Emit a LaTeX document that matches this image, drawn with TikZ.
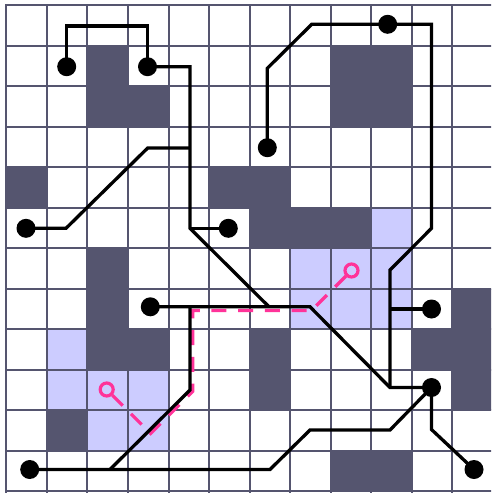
\documentclass[tikz,border=0pt]{standalone}
\definecolor{darkc}{HTML}{55556F}
\definecolor{lightc}{HTML}{CCCCFF}
\definecolor{pinkc}{HTML}{FF3399}
\begin{document}
\begin{tikzpicture}[x=1pt,y=-1pt,
  wire/.style={line width=3.3pt,black,line join=miter},
  dot/.style={circle,fill=black,inner sep=0pt,minimum size=19pt},
  ring/.style={circle,draw=pinkc,line width=3.2pt,inner sep=0pt,minimum size=13pt},
  route/.style={pinkc,line width=3.2pt,dash pattern=on 15pt off 11.7pt},
  gridline/.style={darkc,line width=2pt}]
\useasboundingbox (0,0) rectangle (491,493);
\fill[white] (0,0) rectangle (491,493);
\begin{scope}
\clip (0,0) rectangle (491,493);
% dark cells
\foreach \c/\r in {2/1,8/1,9/1,2/2,3/2,8/2,9/2,0/4,5/4,6/4,6/5,7/5,8/5,2/6,2/7,11/7,2/8,3/8,6/8,10/8,11/8,6/9,11/9,1/10,8/11,9/11}
  \fill[darkc] ({6.3+40.55*\c},{5.3+40.5*\r}) rectangle ++(40.55,40.5);
% light cells
\foreach \c/\r in {9/5,7/6,8/6,9/6,7/7,8/7,9/7,1/8,1/9,2/9,3/9,2/10,3/10}
  \fill[lightc] ({6.3+40.55*\c},{5.3+40.5*\r}) rectangle ++(40.55,40.5);
% grid
\foreach \i in {0,...,12} {
  \draw[gridline] ({6.3+40.55*\i},4.3) -- ({6.3+40.55*\i},494);
  \draw[gridline] (5.3,{5.3+40.5*\i}) -- (494,{5.3+40.5*\i});
}
\end{scope}
% dot centres
\coordinate (c1) at (66.7,66.7);
\coordinate (c2) at (147.5,66.7);
\coordinate (c3) at (387.7,24.3);
\coordinate (c4) at (267.3,147.7);
\coordinate (c5) at (26,228.3);
\coordinate (c6) at (228.3,228.3);
\coordinate (c7) at (150.3,306.8);
\coordinate (c8) at (431.5,309);
\coordinate (c9) at (431.5,387.5);
\coordinate (c10) at (474,469.5);
\coordinate (c11) at (29.7,469.5);
% junctions
\coordinate (j1) at (66.7,26);
\coordinate (j2) at (147.5,26);
\coordinate (j3) at (190,66.7);
\coordinate (j4) at (190,148);
\coordinate (j5) at (190,228.3);
\coordinate (j6) at (269,306.8);
\coordinate (j7) at (147.7,148);
\coordinate (j8) at (66,228.3);
\coordinate (j9) at (310,306.8);
\coordinate (j10) at (390,387.5);
\coordinate (j11) at (190,306.8);
\coordinate (j12) at (190,390);
\coordinate (j13) at (110,469.5);
\coordinate (j14) at (270,469.5);
\coordinate (j15) at (310,430);
\coordinate (j16) at (390,430);
\coordinate (j17) at (431.5,429.5);
\coordinate (j18) at (267.3,68.3);
\coordinate (j19) at (311.7,24.3);
\coordinate (j20) at (431.5,24.3);
\coordinate (j21) at (431.5,228.3);
\coordinate (j22) at (390,270);
\coordinate (j23) at (390,309);
% pink route
\node[ring] (r1) at (351.5,270.5) {};
\node[ring] (r2) at (106.7,389.5) {};
\coordinate (q1) at (311.5,310.5);
\coordinate (q2) at (192.7,310.5);
\coordinate (q3) at (192.7,391.5);
\coordinate (q4) at (150.7,433.5);
\draw[route] (r1) -- (q1) -- (q2) -- (q3) -- (q4) -- (r2);
% wires
\draw[wire] (c1) -- (j1) -- (j2) -- (c2);
\draw[wire] (c2) -- (j3) -- (j4) -- (j5) -- (j6);
\draw[wire] (j4) -- (j7) -- (j8) -- (c5);
\draw[wire] (j5) -- (c6);
\draw[wire] (c7) -- (j9) -- (j10) -- (c9);
\draw[wire] (j11) -- (j12) -- (j13);
\draw[wire] (c11) -- (j14) -- (j15) -- (j16) -- (c9);
\draw[wire] (c9) -- (j17) -- (c10);
\draw[wire] (c4) -- (j18) -- (j19) -- (c3) -- (j20) -- (j21) -- (j22) -- (j10);
\draw[wire] (j23) -- (c8);
% dots
\foreach \k in {1,...,11}
  \node[dot] (d\k) at (c\k) {};
\end{tikzpicture}
\end{document}
